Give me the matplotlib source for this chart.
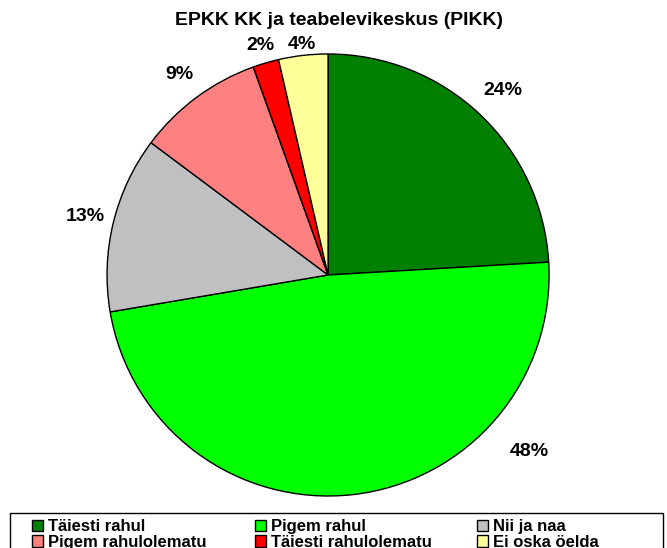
import numpy as np
import matplotlib.pyplot as plt
from matplotlib.patches import Rectangle

plt.rcParams['font.family'] = ['Liberation Sans', 'DejaVu Sans']

# ------------------------------
# DATA
# ------------------------------
title = "EPKK KK ja teabelevikeskus (PIKK)"
categories = ["Täiesti rahul", "Pigem rahul", "Nii ja naa",
              "Pigem rahulolematu", "Täiesti rahulolematu", "Ei oska öelda"]
shares = [24.1, 48.3, 12.9, 9.3, 1.9, 3.6]
colors = ["#008000", "#00FF00", "#C0C0C0", "#FF8080", "#FF0000", "#FFFF99"]

# label placement (radius factor, optional angle override in degrees)
label_dist = [1.15, 1.21, 1.13, 1.13, 1.08, 1.05]
label_angle = [None, -41.2, None, None, None, None]

# ------------------------------
# PLOT
# ------------------------------
fig = plt.figure(figsize=(6.67, 5.48), dpi=100)
ax = fig.add_axes([0.1605, 0.0949, 0.6627, 0.8066])

wedges, texts, autotexts = ax.pie(
    shares, colors=colors, startangle=90, counterclock=False,
    autopct=lambda p: f"{p:.0f}%",
    wedgeprops=dict(edgecolor="black", linewidth=1),
    textprops=dict(fontsize=14, fontweight="bold", color="black"),
)
ax.set_xlim(-1, 1)
ax.set_ylim(-1, 1)
ax.set_aspect("equal")

# move percentage labels outside the pie (Excel best-fit style)
for w, t, d, a in zip(wedges, autotexts, label_dist, label_angle):
    if a is None:
        a = (w.theta1 + w.theta2) / 2
    r = np.deg2rad(a)
    t.set_position((d * np.cos(r), d * np.sin(r)))
    t.set_ha("center")
    t.set_va("center")

fig.text(0.508, 0.962, title, ha="center", va="center",
         fontsize=14, fontweight="bold")

# legend box running off the bottom edge
fig.patches.append(Rectangle((10 / 667, -0.05), 653 / 667, 0.05 + 35 / 548,
                             transform=fig.transFigure, facecolor="white",
                             edgecolor="black", linewidth=1))

# three equal-width columns, entries row-wise like Excel
col_x = [32, 255, 477]
for c, x in enumerate(col_x):
    idx = [c, c + 3]
    fig.legend([wedges[i] for i in idx], [categories[i] for i in idx],
               loc="upper left", bbox_to_anchor=(x / 667, 1 - 519 / 548),
               frameon=False, prop=dict(size=12, weight="bold"),
               handlelength=0.65, handleheight=0.65, handletextpad=0.3,
               labelspacing=0.05, borderpad=0.0, borderaxespad=0.0)

fig.savefig("out.png", dpi=100)
